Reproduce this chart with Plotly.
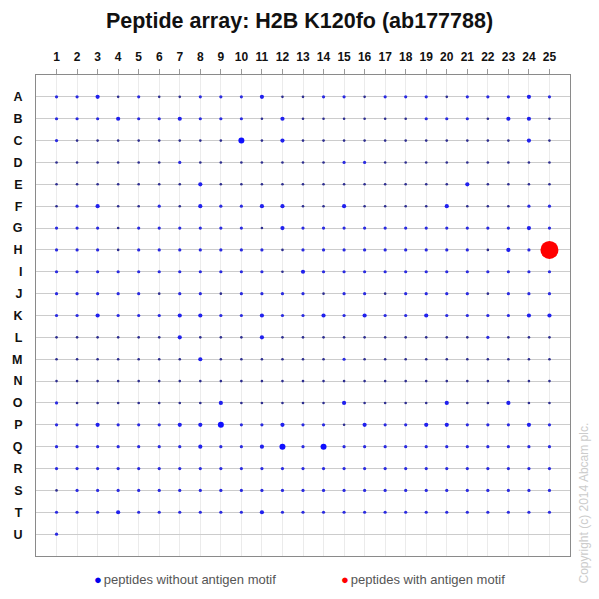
import plotly.graph_objects as go

# peptide array layout
columns = list(range(1, 26))
row_labels = list("ABCDEFGHIJKLMNOPQRSTU")

# relative spot signal per row (1 = faint ... 4 = strong)
signal = {
    'A': [2, 2, 3, 1, 2, 1, 1, 2, 2, 2, 3, 1, 1, 2, 2, 1, 2, 2, 2, 1, 2, 2, 2, 3, 2],
    'B': [2, 2, 2, 3, 2, 2, 3, 2, 2, 2, 1, 3, 1, 1, 1, 1, 1, 1, 2, 2, 2, 1, 3, 3, 1],
    'C': [2, 1, 1, 1, 1, 1, 1, 1, 1, 4, 1, 3, 1, 1, 1, 1, 1, 1, 1, 1, 1, 1, 1, 3, 1],
    'D': [1, 1, 1, 1, 1, 1, 2, 1, 1, 1, 1, 1, 1, 1, 2, 2, 1, 1, 1, 1, 1, 1, 1, 1, 1],
    'E': [1, 1, 1, 1, 1, 1, 1, 3, 1, 1, 1, 1, 1, 1, 1, 1, 1, 1, 1, 1, 3, 1, 1, 1, 1],
    'F': [1, 2, 3, 1, 1, 2, 1, 3, 2, 2, 3, 3, 1, 1, 3, 1, 1, 1, 1, 3, 1, 1, 1, 2, 2],
    'G': [2, 2, 2, 1, 2, 2, 2, 2, 2, 2, 1, 3, 2, 2, 2, 2, 2, 2, 2, 2, 2, 2, 2, 3, 2],
    'H': [2, 2, 2, 1, 2, 2, 2, 2, 2, 2, 2, 1, 2, 2, 2, 2, 2, 2, 2, 2, 2, 1, 3, 2, 9],
    'I': [2, 2, 2, 2, 2, 2, 2, 2, 2, 2, 2, 1, 3, 2, 2, 2, 2, 2, 2, 2, 2, 2, 2, 2, 2],
    'J': [2, 2, 2, 2, 2, 1, 2, 2, 1, 2, 2, 2, 2, 1, 2, 2, 1, 2, 2, 2, 2, 1, 2, 2, 2],
    'K': [2, 2, 3, 2, 2, 2, 3, 3, 2, 2, 3, 2, 2, 3, 2, 3, 2, 2, 3, 2, 2, 2, 2, 3, 3],
    'L': [1, 1, 1, 1, 1, 1, 3, 1, 1, 1, 3, 1, 1, 1, 1, 1, 1, 1, 1, 1, 1, 2, 1, 1, 1],
    'M': [1, 1, 1, 1, 1, 1, 1, 3, 1, 1, 1, 1, 1, 1, 2, 1, 1, 1, 1, 1, 1, 1, 1, 1, 1],
    'N': [1, 1, 1, 1, 1, 1, 1, 1, 1, 1, 1, 1, 1, 1, 1, 1, 1, 1, 1, 1, 1, 1, 1, 1, 1],
    'O': [2, 1, 1, 1, 1, 1, 1, 1, 3, 1, 1, 1, 1, 1, 3, 1, 1, 1, 1, 3, 1, 1, 3, 1, 1],
    'P': [2, 2, 3, 2, 2, 2, 3, 3, 4, 2, 2, 3, 2, 2, 1, 3, 2, 2, 3, 3, 2, 2, 2, 3, 2],
    'Q': [2, 2, 2, 2, 2, 2, 2, 3, 2, 2, 3, 4, 2, 4, 2, 2, 2, 2, 2, 2, 2, 2, 2, 2, 2],
    'R': [2, 2, 2, 2, 2, 2, 2, 2, 2, 2, 2, 2, 2, 2, 2, 2, 2, 2, 2, 2, 2, 2, 2, 2, 2],
    'S': [1, 2, 2, 2, 2, 2, 2, 2, 2, 2, 2, 2, 2, 2, 2, 2, 2, 2, 2, 2, 2, 2, 2, 2, 2],
    'T': [2, 2, 2, 3, 2, 2, 2, 2, 2, 2, 3, 2, 2, 2, 2, 2, 2, 2, 2, 2, 2, 2, 2, 2, 2],
    'U': [2],
}

# spots whose peptide carries the antigen motif
motif_spots = [('H', 25)]

SIZE_BY_LEVEL = {1: 2.6, 2: 3.2, 3: 4.2, 4: 6.0, 9: 18}
COLOR_BY_LEVEL = {1: '#2d2d8f', 2: '#2a2ae0', 3: '#2020ee', 4: '#1010ff'}
FONT = 'Arial, Liberation Sans, sans-serif'

plain_x, plain_y, plain_size, plain_color, plain_text = [], [], [], [], []
motif_x, motif_y, motif_size, motif_text = [], [], [], []
for r_idx, row in enumerate(row_labels):
    for c_idx, level in enumerate(signal[row]):
        col = columns[c_idx]
        if (row, col) in motif_spots:
            motif_x.append(col)
            motif_y.append(r_idx + 1)
            motif_size.append(SIZE_BY_LEVEL[level])
            motif_text.append(f'{row}{col}')
        else:
            plain_x.append(col)
            plain_y.append(r_idx + 1)
            plain_size.append(SIZE_BY_LEVEL[level])
            plain_color.append(COLOR_BY_LEVEL[level])
            plain_text.append(f'{row}{col}')

fig = go.Figure()
fig.add_trace(go.Scatter(
    x=plain_x, y=plain_y, mode='markers', name='peptides without antigen motif',
    text=plain_text, hovertemplate='%{text}<extra></extra>',
    marker=dict(size=plain_size, color=plain_color, opacity=1, line=dict(width=0)),
))
fig.add_trace(go.Scatter(
    x=motif_x, y=motif_y, mode='markers', name='peptides with antigen motif',
    text=motif_text, hovertemplate='%{text}<extra></extra>',
    marker=dict(size=motif_size, color='#ff0000', opacity=1, line=dict(width=0)),
))

fig.update_layout(
    width=599, height=599,
    margin=dict(l=32, r=29, t=75, b=43, pad=0),
    paper_bgcolor='white', plot_bgcolor='white',
    showlegend=False,
    title=dict(
        text='<b>Peptide array: H2B K120fo (ab177788)</b>',
        x=0.5, xanchor='center', y=0.966, yanchor='middle',
        font=dict(family=FONT, size=21.5, color='#111111'),
    ),
    font=dict(family=FONT, size=12, color='#222222'),
)

fig.update_xaxes(
    side='top', range=[0, 26], tickvals=columns,
    ticktext=[f'<b>{c}</b>' for c in columns],
    ticks='outside', ticklen=5, tickcolor='#999999', ticklabelstandoff=3,
    showgrid=True, gridcolor='#ebebeb', gridwidth=1,
    showline=True, linecolor='#8a8a8a', linewidth=1, mirror=True,
    zeroline=False, tickfont=dict(family=FONT, size=12, color='#111111'),
)
fig.update_yaxes(
    range=[22, 0], tickvals=list(range(1, len(row_labels) + 1)),
    ticktext=[f'<b>{r}</b>' for r in row_labels],
    ticks='', ticklabelstandoff=10,
    showgrid=True, gridcolor='#cccccc', gridwidth=1,
    showline=True, linecolor='#8a8a8a', linewidth=1, mirror=True,
    zeroline=False, tickfont=dict(family=FONT, size=12.5, color='#111111'),
)

# legend drawn as text below the plot
legend_items = [
    ('peptides without antigen motif', '#0000ee', 0.105),
    ('peptides with antigen motif', '#ff0000', 0.568),
]
for label, color, xpos in legend_items:
    fig.add_annotation(
        xref='paper', yref='paper', x=xpos, y=-0.048, xanchor='left', yanchor='middle',
        text=f'<span style="color:{color};font-size:13px">●</span><span style="font-size:7px"> </span>{label}',
        showarrow=False, font=dict(family=FONT, size=13, color='#555555'),
    )

fig.add_annotation(
    xref='paper', yref='paper', x=1.026, y=0.111, xanchor='center', yanchor='middle',
    text='Copyright (c) 2014 Abcam plc.', textangle=-90, showarrow=False,
    font=dict(family=FONT, size=12, color='#cccccc'),
)

fig.write_html('out.html', config={'displayModeBar': False},
               post_script="document.body.style.margin='0px';")
